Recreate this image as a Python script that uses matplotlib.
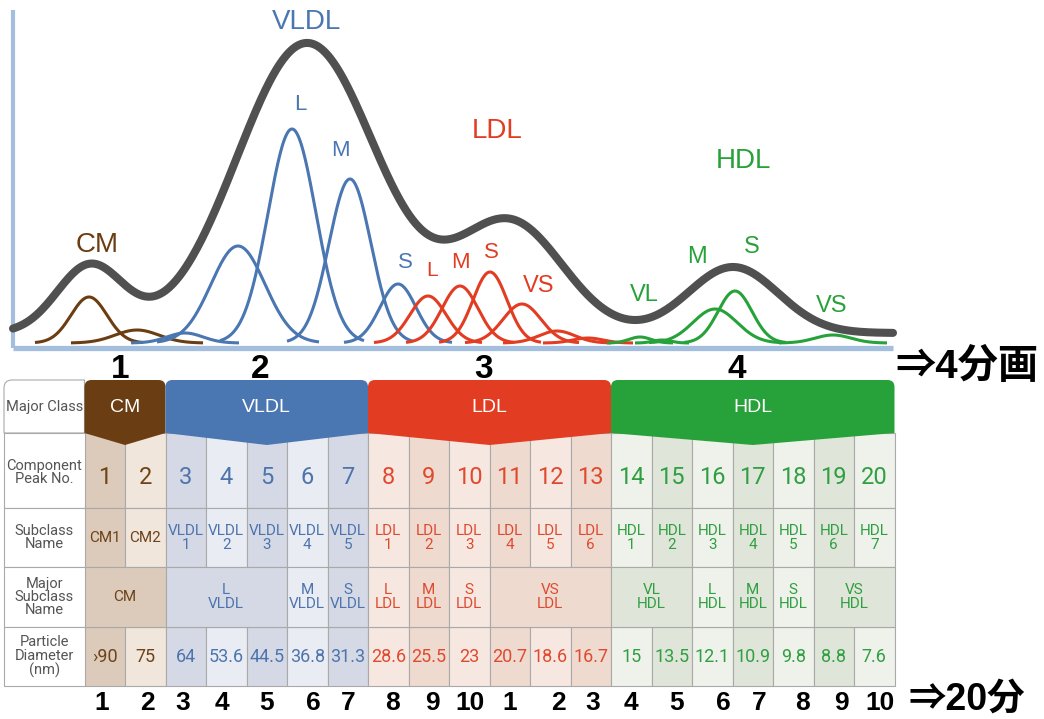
import numpy as np
import matplotlib.pyplot as plt
from matplotlib.patches import Rectangle, PathPatch
from matplotlib.path import Path

# ---- values ----
classes = ["CM", "VLDL", "LDL", "HDL"]
class_cols = [2, 5, 6, 7]
peak_no = [str(i) for i in range(1, 21)]
subclass = ["CM1", "CM2",
            "VLDL\n1", "VLDL\n2", "VLDL\n3", "VLDL\n4", "VLDL\n5",
            "LDL\n1", "LDL\n2", "LDL\n3", "LDL\n4", "LDL\n5", "LDL\n6",
            "HDL\n1", "HDL\n2", "HDL\n3", "HDL\n4", "HDL\n5", "HDL\n6", "HDL\n7"]
major_sub = ["CM", "L\nVLDL", "M\nVLDL", "S\nVLDL", "L\nLDL", "M\nLDL", "S\nLDL",
             "VS\nLDL", "VL\nHDL", "L\nHDL", "M\nHDL", "S\nHDL", "VS\nHDL"]
major_sub_cols = [2, 3, 1, 1, 1, 1, 1, 3, 2, 1, 1, 1, 2]
diameter = ["›90", "75", "64", "53.6", "44.5", "36.8", "31.3", "28.6", "25.5", "23",
            "20.7", "18.6", "16.7", "15", "13.5", "12.1", "10.9", "9.8", "8.8", "7.6"]
fraction_no = ["1", "2", "3", "4", "5", "6", "7", "8", "9", "10",
               "1", "2", "3", "4", "5", "6", "7", "8", "9", "10"]
row_names = ["Major Class", "Component\nPeak No.", "Subclass\nName",
             "Major\nSubclass\nName", "Particle\nDiameter\n(nm)"]

# component peaks: position, height, width (chart pixels)
cm_pos = [89, 137]
cm_h = [46, 13]
cm_w = [18, 22]
vldl_pos = [185, 238, 292, 350, 398]
vldl_h = [10, 97, 214, 164, 59]
vldl_w = [18, 27, 24, 21, 18]
ldl_pos = [428, 460, 490, 522, 557, 588]
ldl_h = [47, 57, 71, 39, 12, 5]
ldl_w = [18, 18, 17, 19, 18, 15]
hdl_pos = [640, 662, 715, 735, 833]
hdl_h = [6, 3, 34, 52, 8]
hdl_w = [11, 9, 22, 17, 18]
# total profile
env_pos = [90, 307, 510, 733]
env_h = [67, 290, 110, 66]
env_w = [33, 70, 53, 45]

peak_labels = {"CM": [("CM", 97, 245, 20)],
               "VLDL": [("VLDL", 307, 22, 20), ("L", 300, 104, 16), ("M", 340, 150, 16), ("S", 405, 263, 16)],
               "LDL": [("LDL", 497, 131, 20), ("L", 432, 270, 15), ("M", 460, 263, 16), ("S", 491, 253, 16), ("VS", 539, 286, 17)],
               "HDL": [("HDL", 743, 161, 20), ("VL", 644, 295, 17), ("M", 697, 257, 17), ("S", 752, 247, 17), ("VS", 832, 306, 17)]}

# ---- style ----
main_col = {"CM": "#6b3d12", "VLDL": "#4a76b2", "LDL": "#e23c22", "HDL": "#27a23a"}
text_col = {"CM": "#6e4318", "VLDL": "#4d74ad", "LDL": "#df4a2f", "HDL": "#2f9f41"}
cell_dark = {"CM": "#dccbbb", "VLDL": "#d5d9e5", "LDL": "#efdad0", "HDL": "#dfe5d8"}
cell_light = {"CM": "#f0e6dc", "VLDL": "#e9ecf3", "LDL": "#f7e7e1", "HDL": "#eef2ea"}

narrow = "Roboto"
sans = "Liberation Sans"
jp = [sans, "Noto Sans CJK JP", "DejaVu Sans"]

fig = plt.figure(figsize=(10.44, 7.19), dpi=100)
ax = fig.add_axes([0, 0, 1, 1])
ax.set_xlim(0, 1044)
ax.set_ylim(719, 0)
ax.axis("off")

# ---- curves ----
axis_y = 348
comp_base = 343
env_base = 333
x_left, x_right = 13, 893

ax.plot([x_left, x_left], [10, axis_y], color="#a4bfdd", lw=3, solid_capstyle="butt", zorder=1)
ax.plot([x_left, x_right], [axis_y, axis_y], color="#a4bfdd", lw=3.8, solid_capstyle="butt", zorder=1)

comps = {"CM": (cm_pos, cm_h, cm_w), "VLDL": (vldl_pos, vldl_h, vldl_w),
         "LDL": (ldl_pos, ldl_h, ldl_w), "HDL": (hdl_pos, hdl_h, hdl_w)}
for cls, (pos, hgt, wid) in comps.items():
    for p, h, w in zip(pos, hgt, wid):
        xs = np.linspace(p - 3 * w, p + 3 * w, 200)
        ys = comp_base - h * np.exp(-(xs - p) ** 2 / (2 * w ** 2))
        ax.plot(xs, ys, color=main_col[cls], lw=2.2, zorder=3, solid_capstyle="butt")
    for txt, lx, ly, fs in peak_labels[cls]:
        ax.text(lx, ly, txt, color=main_col[cls], fontsize=fs, family=sans,
                ha="center", va="center", zorder=4)

xe = np.linspace(x_left, x_right, 800)
ye = np.full_like(xe, float(env_base))
for p, h, w in zip(env_pos, env_h, env_w):
    ye -= h * np.exp(-(xe - p) ** 2 / (2 * w ** 2))
ax.plot(xe, ye, color="#505050", lw=5.8, zorder=5, solid_capstyle="round")

# ---- table ----
rows_y = [380, 433, 508, 567, 627, 686]
hdr_x0, col_x0, col_w = 4, 84.5, 40.5
ncol = len(peak_no)
col_cls = [c for c, n in zip(classes, class_cols) for _ in range(n)]
grid_c = "#a9a9a9"

# cell backgrounds, rows 2,3,5 (even columns are the darker tint)
for i in range(ncol):
    x0 = col_x0 + i * col_w
    fc = cell_dark[col_cls[i]] if i % 2 == 0 else cell_light[col_cls[i]]
    for r in (1, 2, 4):
        ax.add_patch(Rectangle((x0, rows_y[r]), col_w, rows_y[r + 1] - rows_y[r],
                               facecolor=fc, edgecolor=grid_c, lw=0.8, zorder=1))
    ax.text(x0 + col_w / 2, 478, peak_no[i], color=text_col[col_cls[i]], fontsize=17,
            family=narrow, ha="center", va="center", zorder=4)
    ax.text(x0 + col_w / 2, 538, subclass[i], color=text_col[col_cls[i]], fontsize=11,
            family=narrow, ha="center", va="center", linespacing=1.0, zorder=4)
    ax.text(x0 + col_w / 2, 657, diameter[i], color=text_col[col_cls[i]], fontsize=13,
            family=narrow, ha="center", va="center", zorder=4)

# fraction numbers under the table
frac_x = [102, 147, 183, 222, 267, 313, 348, 393, 432, 470,
          510, 558, 593, 631, 677, 723, 759, 802, 841, 880]
for fx, lab in zip(frac_x, fraction_no):
    ax.text(fx, 703, lab, color="black", fontsize=19,
            family=sans, weight="bold", ha="center", va="center", zorder=4)

# merged major subclass row
ci = 0
for txt, n in zip(major_sub, major_sub_cols):
    cls = col_cls[ci]
    dark = any(j % 2 == 0 for j in range(ci, ci + n))
    fc = cell_dark[cls] if dark else cell_light[cls]
    x0 = col_x0 + ci * col_w
    ax.add_patch(Rectangle((x0, rows_y[3]), n * col_w, rows_y[4] - rows_y[3],
                           facecolor=fc, edgecolor=grid_c, lw=0.8, zorder=1))
    ax.text(x0 + n * col_w / 2, 597, txt, color=text_col[cls], fontsize=11,
            family=narrow, ha="center", va="center", linespacing=1.05, zorder=4)
    ci += n

# row header column
r_tl = 8
for r, name in enumerate(row_names):
    y0, y1 = rows_y[r], rows_y[r + 1]
    if r == 0:
        verts = [(hdr_x0, y1), (hdr_x0, y0 + r_tl), (hdr_x0, y0), (hdr_x0 + r_tl, y0),
                 (col_x0, y0), (col_x0, y1), (hdr_x0, y1)]
        codes = [Path.MOVETO, Path.LINETO, Path.CURVE3, Path.CURVE3,
                 Path.LINETO, Path.LINETO, Path.CLOSEPOLY]
        ax.add_patch(PathPatch(Path(verts, codes), facecolor="white", edgecolor=grid_c, lw=0.8, zorder=1))
    else:
        ax.add_patch(Rectangle((hdr_x0, y0), col_x0 - hdr_x0, y1 - y0,
                               facecolor="white", edgecolor=grid_c, lw=0.8, zorder=1))
    ax.text((hdr_x0 + col_x0) / 2, (y0 + y1) / 2 + (2 if r == 1 else 0), name, color="#555555",
            fontsize=10.5, family=narrow, ha="center", va="center", linespacing=0.95, zorder=4)

# class banners
top_x = [120, 260, 484, 737]
r_b = 7
ci = 0
for k, (cls, n) in enumerate(zip(classes, class_cols)):
    x0 = col_x0 + ci * col_w
    x1 = x0 + n * col_w
    xc = (x0 + x1) / 2
    y0, y1, yp = rows_y[0], rows_y[1], 445
    verts = [(x0, y1), (x0, y0 + r_b), (x0, y0), (x0 + r_b, y0), (x1 - r_b, y0),
             (x1, y0), (x1, y0 + r_b), (x1, y1), (xc, yp), (x0, y1)]
    codes = [Path.MOVETO, Path.LINETO, Path.CURVE3, Path.CURVE3, Path.LINETO,
             Path.CURVE3, Path.CURVE3, Path.LINETO, Path.LINETO, Path.CLOSEPOLY]
    ax.add_patch(PathPatch(Path(verts, codes), facecolor=main_col[cls], edgecolor="none", zorder=2))
    ax.text(xc, 408, cls, color="white", fontsize=14, family=sans,
            ha="center", va="center", zorder=4)
    ax.text(top_x[k], 369, str(k + 1), color="black", fontsize=24,
            family=sans, weight="bold", ha="center", va="center", zorder=4)
    ci += n

ax.text(895, 367, "⇒4分画", color="black", fontsize=29, family=jp, weight="bold",
        ha="left", va="center", zorder=4)
ax.text(909, 700, "⇒20分", color="black", fontsize=27, family=jp, weight="bold",
        ha="left", va="center", zorder=4)

fig.savefig("out.png", dpi=100, facecolor="white")
